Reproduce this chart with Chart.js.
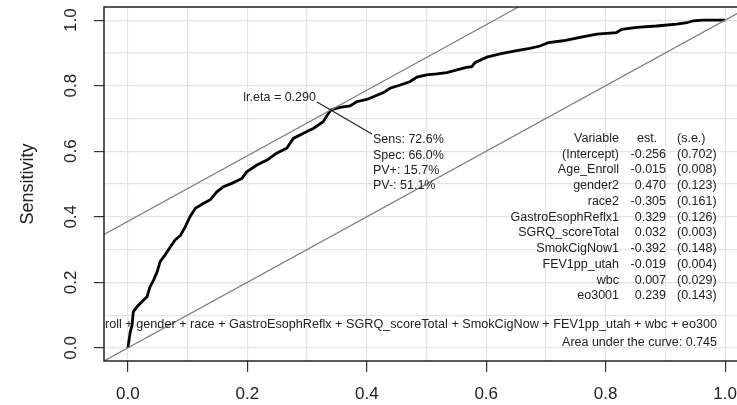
<!DOCTYPE html>
<html>
<head>
<meta charset="utf-8">
<title>ROC curve</title>
<script src="https://cdn.jsdelivr.net/npm/chart.js@4.4.1/dist/chart.umd.min.js"></script>
<style>
  html, body { margin: 0; padding: 0; background: #fff; overflow: hidden; }
  #wrap { width: 770px; height: 405px; }
</style>
</head>
<body>
<div id="wrap"><canvas id="roc"></canvas></div>
<script>
// ROC curve (1 - specificity, sensitivity)
const fpr = [0, 0.004, 0.007, 0.009, 0.015, 0.023, 0.032, 0.037, 0.043, 0.049,
  0.054, 0.062, 0.071, 0.079, 0.088, 0.096, 0.104, 0.113, 0.127, 0.138,
  0.149, 0.160, 0.174, 0.191, 0.199, 0.216, 0.233, 0.249, 0.266, 0.277,
  0.294, 0.311, 0.327, 0.336, 0.340, 0.355, 0.372, 0.383, 0.400, 0.411,
  0.428, 0.439, 0.456, 0.472, 0.484, 0.500, 0.517, 0.534, 0.551, 0.567,
  0.576, 0.581, 0.601, 0.623, 0.651, 0.673, 0.690, 0.704, 0.729, 0.757,
  0.785, 0.818, 0.827, 0.852, 0.885, 0.919, 0.936, 0.947, 0.963, 1.0];
const tpr = [0, 0.049, 0.069, 0.110, 0.125, 0.140, 0.156, 0.186, 0.207, 0.232,
  0.263, 0.283, 0.308, 0.329, 0.343, 0.369, 0.400, 0.426, 0.441, 0.452,
  0.476, 0.492, 0.502, 0.517, 0.537, 0.558, 0.573, 0.594, 0.609, 0.639,
  0.655, 0.670, 0.690, 0.716, 0.726, 0.734, 0.738, 0.751, 0.758, 0.766,
  0.779, 0.792, 0.802, 0.812, 0.826, 0.833, 0.836, 0.840, 0.848, 0.856,
  0.858, 0.870, 0.887, 0.897, 0.907, 0.914, 0.921, 0.931, 0.937, 0.947,
  0.957, 0.962, 0.972, 0.978, 0.982, 0.988, 0.992, 0.998, 1.0, 1.0];

// optimal cut point
const lrEta = 0.290;
const sens = 0.726;
const spec = 0.660;
const pvPos = 0.157;
const pvNeg = 0.511;
const auc = 0.745;

// model table
const variables = ['(Intercept)', 'Age_Enroll', 'gender2', 'race2', 'GastroEsophReflx1',
  'SGRQ_scoreTotal', 'SmokCigNow1', 'FEV1pp_utah', 'wbc', 'eo3001'];
const estimates = ['-0.256', '-0.015', '0.470', '-0.305', '0.329', '0.032', '-0.392', '-0.019', '0.007', '0.239'];
const stdErrors = ['(0.702)', '(0.008)', '(0.123)', '(0.161)', '(0.126)', '(0.003)', '(0.148)', '(0.004)', '(0.029)', '(0.143)'];
const formula = 'exac ~ Age_Enroll + gender + race + GastroEsophReflx + SGRQ_scoreTotal + SmokCigNow + FEV1pp_utah + wbc + eo300';

// axes
const gridValues = [0, 0.1, 0.2, 0.3, 0.4, 0.5, 0.6, 0.7, 0.8, 0.9, 1.0];
const xTickLabels = ['0.0', '0.2', '0.4', '0.6', '0.8', '1.0'];
const yTickLabels = ['0.0', '0.2', '0.4', '0.6', '0.8', '1.0'];
const axisMin = -0.04;
const axisMax = 1.04;

const FONT = '"Liberation Sans", Arial, Helvetica, sans-serif';
Chart.defaults.font.family = FONT;
Chart.defaults.color = '#222';

const rocPoints = fpr.map((f, i) => ({ x: f, y: tpr[i] }));
const youden = sens + spec - 1;
const diagonal = [{ x: axisMin, y: axisMin }, { x: axisMax, y: axisMax }];
const youdenLine = [{ x: axisMin, y: axisMin + youden }, { x: axisMax - youden, y: axisMax }];

function isMajor(v) {
  return Math.round(v * 10) % 2 === 0;
}

function labelFor(list, v) {
  const s = v.toFixed(1);
  return list.includes(s) ? s : '';
}

// box, rotated y labels and the texts R put inside the plot
const rText = {
  id: 'rText',
  afterDraw(chart) {
    const { ctx, chartArea: a, scales: { x, y } } = chart;
    ctx.save();

    ctx.strokeStyle = '#222';
    ctx.lineWidth = 1.5;
    ctx.strokeRect(a.left, a.top, a.right - a.left, a.bottom - a.top);

    ctx.fillStyle = '#222';
    ctx.font = '17px ' + FONT;
    ctx.textAlign = 'center';
    ctx.textBaseline = 'middle';
    yTickLabels.forEach(lab => {
      const py = y.getPixelForValue(parseFloat(lab));
      ctx.save();
      ctx.translate(71, py);
      ctx.rotate(-Math.PI / 2);
      ctx.fillText(lab, 0, 0);
      ctx.restore();
    });

    // cut point annotation
    const px = x.getPixelForValue(1 - spec);
    const py = y.getPixelForValue(sens);
    ctx.strokeStyle = '#222';
    ctx.lineWidth = 1.2;
    ctx.beginPath();
    ctx.moveTo(px - 14, py - 8);
    ctx.lineTo(px + 41, py + 24);
    ctx.stroke();

    ctx.font = '12.5px ' + FONT;
    ctx.textAlign = 'right';
    ctx.fillText('lr.eta = ' + lrEta.toFixed(3), px - 15, py - 12);
    ctx.textAlign = 'left';
    const notes = [
      'Sens: ' + (sens * 100).toFixed(1) + '%',
      'Spec: ' + (spec * 100).toFixed(1) + '%',
      'PV+: ' + (pvPos * 100).toFixed(1) + '%',
      'PV-: ' + (pvNeg * 100).toFixed(1) + '%'
    ];
    notes.forEach((t, i) => ctx.fillText(t, px + 42, py + 30 + i * 15.3));

    // coefficient table
    const rowY = i => 138.5 + i * 15.75;
    ctx.textAlign = 'right';
    ctx.fillText('Variable', 619, rowY(0));
    ctx.textAlign = 'left';
    ctx.fillText('est.', 637, rowY(0));
    ctx.fillText('(s.e.)', 677, rowY(0));
    variables.forEach((v, i) => {
      ctx.textAlign = 'right';
      ctx.fillText(v, 619, rowY(i + 1));
      ctx.fillText(estimates[i], 666, rowY(i + 1));
      ctx.textAlign = 'left';
      ctx.fillText(stdErrors[i], 677, rowY(i + 1));
    });

    // formula and AUC, clipped to the plot region like R does
    ctx.beginPath();
    ctx.rect(a.left, a.top, a.right - a.left, a.bottom - a.top);
    ctx.clip();
    ctx.textAlign = 'right';
    ctx.font = '12.65px ' + FONT;
    ctx.fillText(formula, 717, 325);
    ctx.font = '12.5px ' + FONT;
    ctx.fillText('Area under the curve: ' + auc.toFixed(3), 717, 342.5);

    ctx.restore();
  }
};

const tickColor = ctx => (ctx.tick && isMajor(ctx.tick.value)) ? '#333' : 'rgba(0,0,0,0)';

new Chart(document.getElementById('roc'), {
  type: 'scatter',
  data: {
    datasets: [
      {
        data: diagonal,
        showLine: true,
        borderColor: '#7d7d7d',
        borderWidth: 1.2,
        pointRadius: 0
      },
      {
        data: youdenLine,
        showLine: true,
        borderColor: '#7d7d7d',
        borderWidth: 1.2,
        pointRadius: 0
      },
      {
        data: rocPoints,
        showLine: true,
        borderColor: '#000',
        borderWidth: 2.8,
        pointRadius: 0,
        tension: 0
      }
    ]
  },
  options: {
    responsive: true,
    maintainAspectRatio: false,
    animation: false,
    layout: { padding: { top: 7, right: 21, bottom: 0, left: 0 } },
    plugins: {
      legend: { display: false },
      tooltip: { enabled: false }
    },
    scales: {
      x: {
        type: 'linear',
        min: axisMin,
        max: axisMax,
        afterBuildTicks: s => { s.ticks = gridValues.map(v => ({ value: v })); },
        afterFit: s => { s.height = 44; },
        border: { display: false },
        grid: {
          color: '#e4e4e4',
          lineWidth: 1.2,
          drawTicks: true,
          tickLength: 11,
          tickWidth: 1.2,
          tickColor: tickColor
        },
        ticks: {
          autoSkip: false,
          maxRotation: 0,
          padding: 12,
          font: { size: 17 },
          color: '#222',
          callback: v => labelFor(xTickLabels, v)
        }
      },
      y: {
        type: 'linear',
        min: axisMin,
        max: axisMax,
        afterBuildTicks: s => { s.ticks = gridValues.map(v => ({ value: v })); },
        afterFit: s => { s.width = 104; },
        border: { display: false },
        grid: {
          color: '#e4e4e4',
          lineWidth: 1.2,
          drawTicks: true,
          tickLength: 10,
          tickWidth: 1.2,
          tickColor: tickColor
        },
        ticks: { display: false },
        title: {
          display: true,
          text: 'Sensitivity',
          font: { size: 18 },
          color: '#222',
          padding: { top: 17, bottom: 0 }
        }
      }
    }
  },
  plugins: [rText]
});
</script>
</body>
</html>
